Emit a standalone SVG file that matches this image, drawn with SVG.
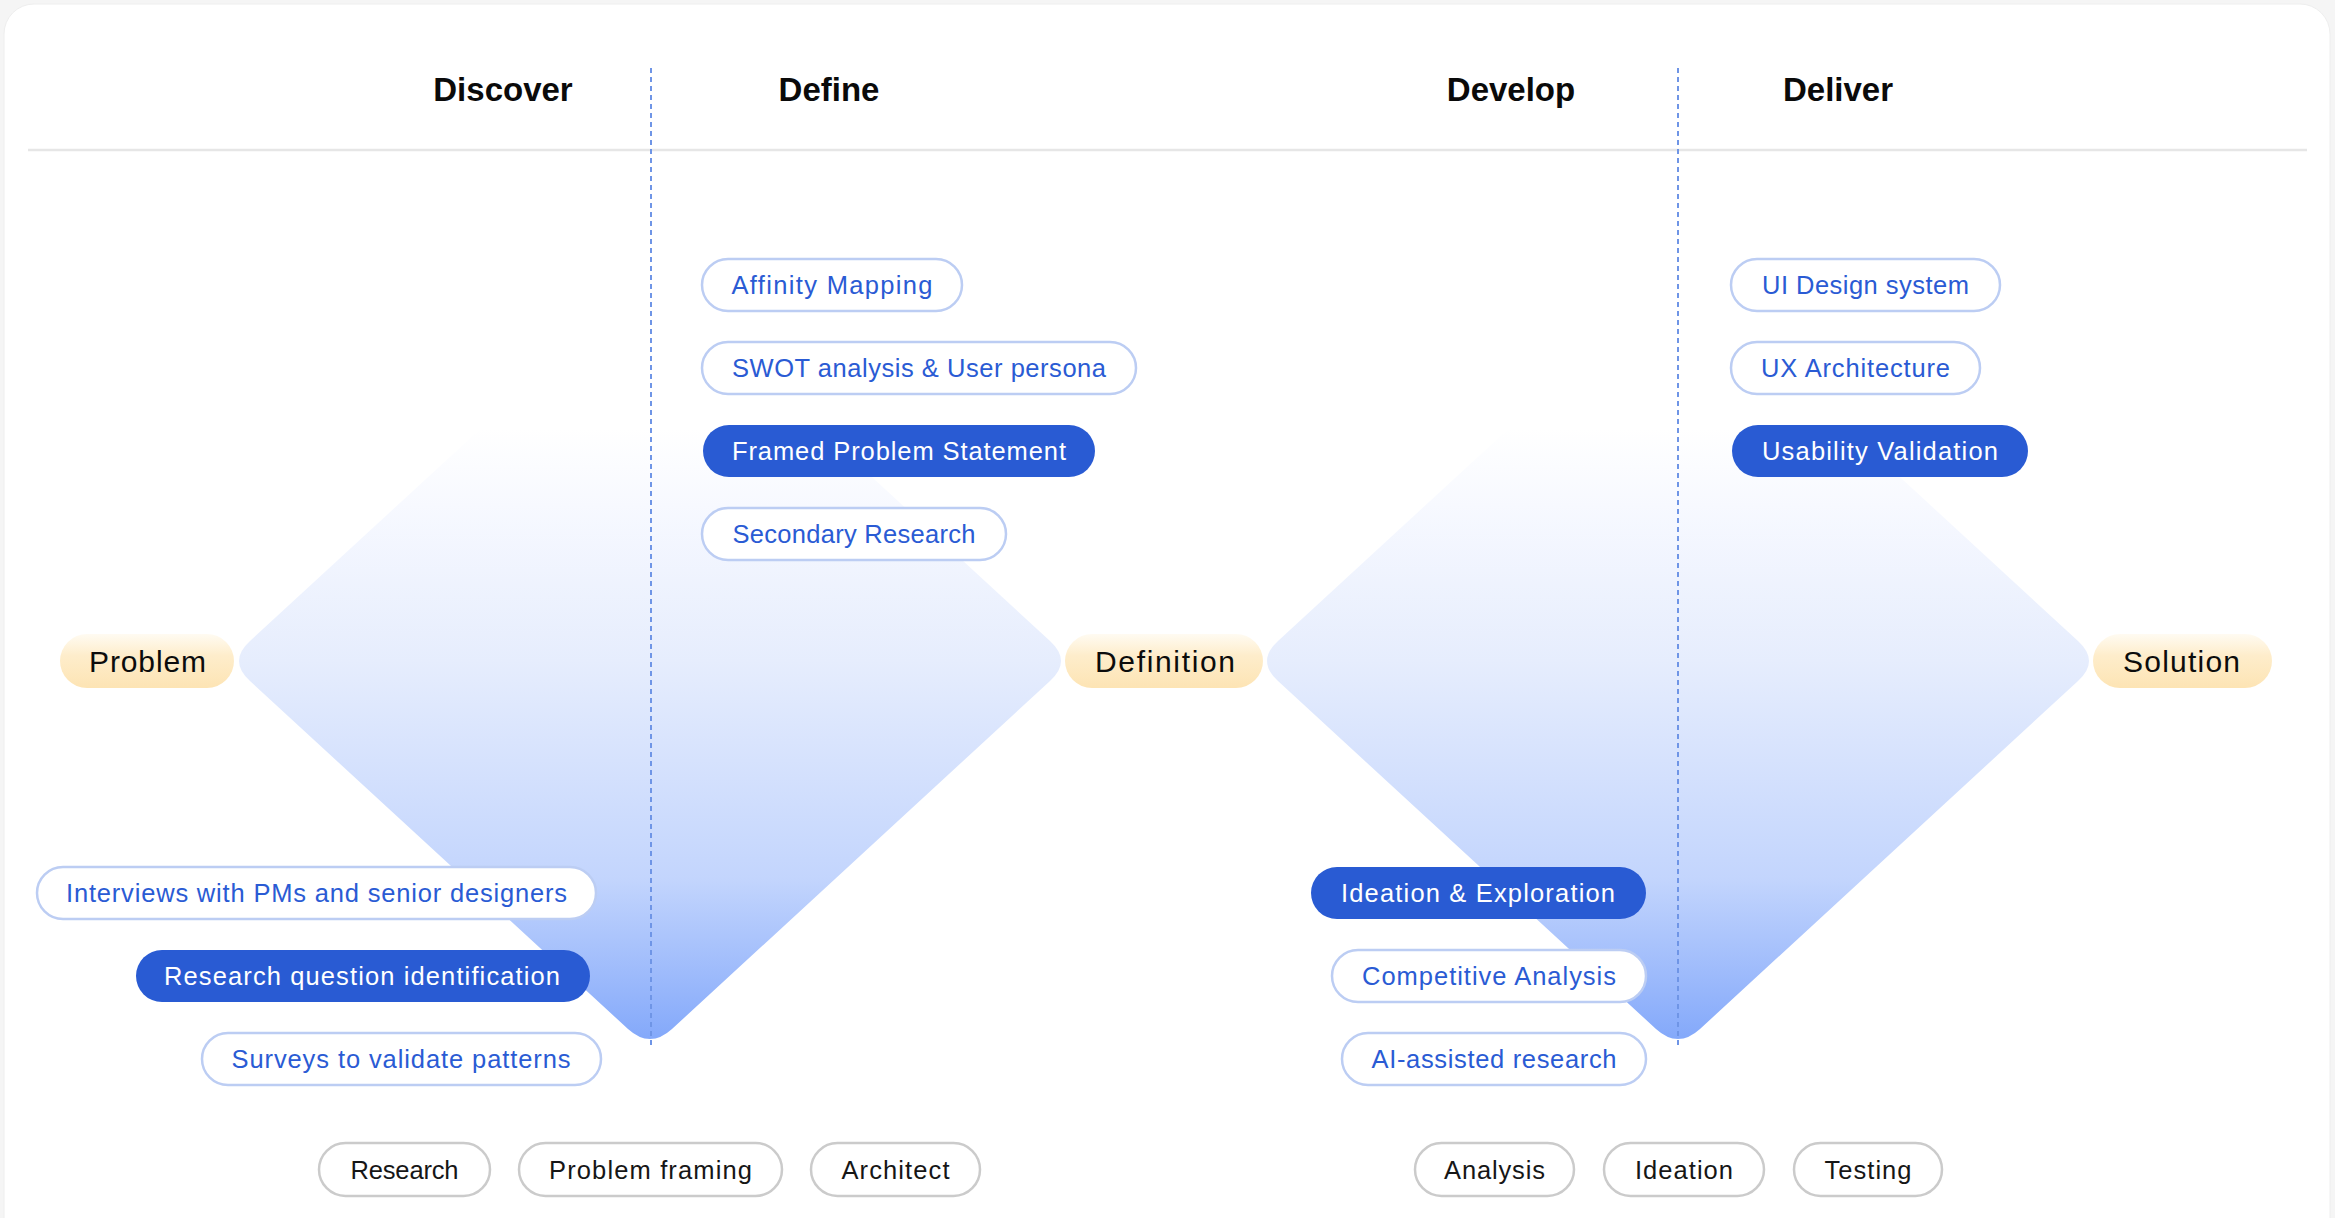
<svg xmlns="http://www.w3.org/2000/svg" width="2335" height="1218" viewBox="0 0 2335 1218">
<style>
  .hdr { font-family: "Liberation Sans", Arial, sans-serif; font-weight: 700; font-size: 33px; fill: #0a0a0a; text-anchor: middle; }
  .pill-o { fill: #ffffff; stroke: #bccdf3; stroke-width: 2.5; }
  .pill-f { fill: #295bd3; }
  .pill-g { fill: #ffffff; stroke: #cbcbcb; stroke-width: 2.5; }
  .pill-y { fill: url(#gy); }
  .t { font-family: "Liberation Sans", Arial, sans-serif; font-size: 25.5px; text-anchor: middle; }
  .tb { fill: #2a5bd4; }
  .tw { fill: #ffffff; }
  .tk { fill: #161616; }
  .ty { font-family: "Liberation Sans", Arial, sans-serif; font-size: 30px; text-anchor: middle; fill: #0c0c0c; }
  .dash { stroke: #6f95e6; stroke-width: 2; stroke-dasharray: 5 4; fill: none; }
</style>
<defs>
  <linearGradient id="gd" gradientUnits="userSpaceOnUse" x1="0" y1="273" x2="0" y2="1049">
    <stop offset="0" stop-color="#ffffff"/>
    <stop offset="0.2" stop-color="#ffffff"/>
    <stop offset="0.3" stop-color="#f7f9ff"/>
    <stop offset="0.5" stop-color="#e6edfd"/>
    <stop offset="0.78" stop-color="#c3d5fd"/>
    <stop offset="1" stop-color="#80a6fa"/>
  </linearGradient>
  <linearGradient id="gy" x1="0" y1="0" x2="0" y2="1">
    <stop offset="0" stop-color="#fffbf2"/>
    <stop offset="0.4" stop-color="#feedcb"/>
    <stop offset="1" stop-color="#fde4b4"/>
  </linearGradient>
</defs>

<rect x="0" y="0" width="2335" height="1218" fill="#f5f5f5"/>
<rect x="4" y="4" width="2326" height="1250" rx="30" fill="#ffffff" stroke="#eeeeee" stroke-width="1"/>

<g id="diamonds">
  <path fill="url(#gd)" d="M 250 641 L 628 293 Q 650 273 672 293 L 1050 641 Q 1072 661 1050 681 L 672 1029 Q 650 1049 628 1029 L 250 681 Q 228 661 250 641 Z"/>
  <path fill="url(#gd)" d="M 1278 641 L 1656 293 Q 1678 273 1700 293 L 2078 641 Q 2100 661 2078 681 L 1700 1029 Q 1678 1049 1656 1029 L 1278 681 Q 1256 661 1278 641 Z"/>
</g>

<g id="connectors">
  <line x1="28" y1="150" x2="2307" y2="150" stroke="#e6e6e6" stroke-width="2.5"/>
  <line class="dash" x1="651" y1="68" x2="651" y2="1045"/>
  <line class="dash" x1="1678" y1="68" x2="1678" y2="1045"/>
</g>

<g id="headers">
  <text id="h-discover" class="hdr" x="503" y="101">Discover</text>
  <text id="h-define" class="hdr" x="829" y="101">Define</text>
  <text id="h-develop" class="hdr" x="1511" y="101">Develop</text>
  <text id="h-deliver" class="hdr" x="1838" y="101">Deliver</text>
</g>

<g id="n-problem"><rect class="pill-y" x="60" y="634" width="174" height="54" rx="27"/><text class="ty" x="147.5" y="672" textLength="117" lengthAdjust="spacing">Problem</text></g>
<g id="n-definition"><rect class="pill-y" x="1065" y="634" width="198" height="54" rx="27"/><text class="ty" x="1165" y="672" textLength="140" lengthAdjust="spacing">Definition</text></g>
<g id="n-solution"><rect class="pill-y" x="2093" y="634" width="179" height="54" rx="27"/><text class="ty" x="2181.5" y="672" textLength="117" lengthAdjust="spacing">Solution</text></g>

<g id="n-affinity"><rect class="pill-o" x="702" y="259" width="260" height="52" rx="26"/><text class="t tb" x="832" y="294" textLength="201" lengthAdjust="spacing">Affinity Mapping</text></g>
<g id="n-swot"><rect class="pill-o" x="702" y="342" width="434" height="52" rx="26"/><text class="t tb" x="919" y="377" textLength="374" lengthAdjust="spacing">SWOT analysis &amp; User persona</text></g>
<g id="n-framed"><rect class="pill-f" x="703" y="425" width="392" height="52" rx="26"/><text class="t tw" x="899" y="460" textLength="334" lengthAdjust="spacing">Framed Problem Statement</text></g>
<g id="n-secondary"><rect class="pill-o" x="702" y="508" width="304" height="52" rx="26"/><text class="t tb" x="854" y="543" textLength="243" lengthAdjust="spacing">Secondary Research</text></g>

<g id="n-uidesign"><rect class="pill-o" x="1731" y="259" width="269" height="52" rx="26"/><text class="t tb" x="1865.5" y="294" textLength="207" lengthAdjust="spacing">UI Design system</text></g>
<g id="n-uxarch"><rect class="pill-o" x="1731" y="342" width="249" height="52" rx="26"/><text class="t tb" x="1855.5" y="377" textLength="189" lengthAdjust="spacing">UX Architecture</text></g>
<g id="n-usability"><rect class="pill-f" x="1732" y="425" width="296" height="52" rx="26"/><text class="t tw" x="1880" y="460" textLength="236" lengthAdjust="spacing">Usability Validation</text></g>

<g id="n-interviews"><rect class="pill-o" x="37" y="867" width="559" height="52" rx="26"/><text class="t tb" x="316.5" y="902" textLength="501" lengthAdjust="spacing">Interviews with PMs and senior designers</text></g>
<g id="n-researchq"><rect class="pill-f" x="136" y="950" width="454" height="52" rx="26"/><text class="t tw" x="362" y="985" textLength="396" lengthAdjust="spacing">Research question identification</text></g>
<g id="n-surveys"><rect class="pill-o" x="202" y="1033" width="399" height="52" rx="26"/><text class="t tb" x="401" y="1068" textLength="339" lengthAdjust="spacing">Surveys to validate patterns</text></g>

<g id="n-ideation-exp"><rect class="pill-f" x="1311" y="867" width="335" height="52" rx="26"/><text class="t tw" x="1478" y="902" textLength="274" lengthAdjust="spacing">Ideation &amp; Exploration</text></g>
<g id="n-competitive"><rect class="pill-o" x="1332" y="950" width="314" height="52" rx="26"/><text class="t tb" x="1489" y="985" textLength="254" lengthAdjust="spacing">Competitive Analysis</text></g>
<g id="n-ai"><rect class="pill-o" x="1342" y="1033" width="304" height="52" rx="26"/><text class="t tb" x="1494" y="1068" textLength="245" lengthAdjust="spacing">AI-assisted research</text></g>

<g id="n-research"><rect class="pill-g" x="319" y="1143" width="171" height="53" rx="26.5"/><text class="t tk" x="404.5" y="1179" textLength="108" lengthAdjust="spacing">Research</text></g>
<g id="n-problemframing"><rect class="pill-g" x="519" y="1143" width="263" height="53" rx="26.5"/><text class="t tk" x="650.5" y="1179" textLength="203" lengthAdjust="spacing">Problem framing</text></g>
<g id="n-architect"><rect class="pill-g" x="811" y="1143" width="169" height="53" rx="26.5"/><text class="t tk" x="895.5" y="1179" textLength="108" lengthAdjust="spacing">Architect</text></g>
<g id="n-analysis"><rect class="pill-g" x="1415" y="1143" width="159" height="53" rx="26.5"/><text class="t tk" x="1494.5" y="1179" textLength="101" lengthAdjust="spacing">Analysis</text></g>
<g id="n-ideation"><rect class="pill-g" x="1604" y="1143" width="160" height="53" rx="26.5"/><text class="t tk" x="1684" y="1179" textLength="98" lengthAdjust="spacing">Ideation</text></g>
<g id="n-testing"><rect class="pill-g" x="1794" y="1143" width="148" height="53" rx="26.5"/><text class="t tk" x="1868" y="1179" textLength="87" lengthAdjust="spacing">Testing</text></g>
</svg>
